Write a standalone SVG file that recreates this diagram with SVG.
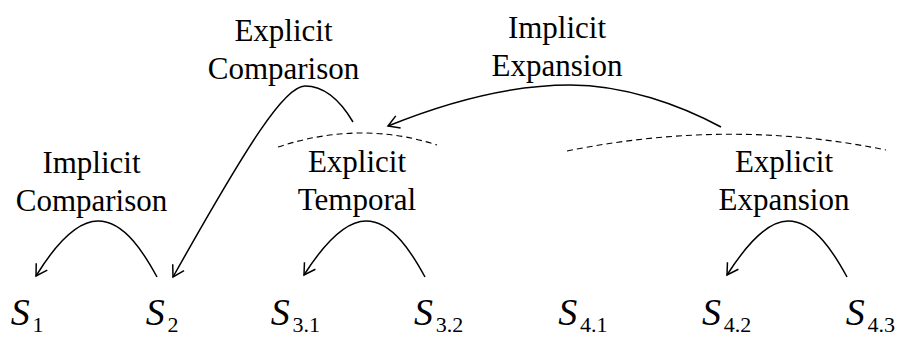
<svg xmlns="http://www.w3.org/2000/svg" width="898" height="338" viewBox="0 0 898 338">
<style>
.lbl{font-family:"Liberation Serif","Times New Roman",serif;font-size:31px;fill:#000;text-anchor:middle}
.s{font-family:"Liberation Serif","Times New Roman",serif;font-size:38px;font-style:italic;fill:#000}
.sub{font-family:"Liberation Serif","Times New Roman",serif;font-size:22px;font-style:normal;fill:#000}
.arc{fill:none;stroke:#000;stroke-width:1.5}
.span{fill:none;stroke:#000;stroke-width:1.1;stroke-dasharray:6 4}
</style>
<defs>
<marker id="arr" markerUnits="userSpaceOnUse" markerWidth="30" markerHeight="30" viewBox="-15 -15 30 30" refX="0" refY="0" orient="auto">
<path d="M-11,-6.5 L0,0 L-11,6.5" fill="none" stroke="#000" stroke-width="1.5"/>
</marker>
</defs>
<rect width="898" height="338" fill="#fff"/>
<g id="spans">
<path class="span" d="M278,147 Q360,120 437,145"/>
<path class="span" d="M567,151 Q730,118 886,150"/>
</g>
<g id="connectors">
<path class="arc" marker-end="url(#arr)" d="M157,277 C145,255 125,221 98,221 C75,221 52,250 36,276"/>
<path class="arc" marker-end="url(#arr)" d="M425,277 C413,255 393,221 366,221 C343,221 320,250 304,275"/>
<path class="arc" marker-end="url(#arr)" d="M847,277 C835,255 815,221 788,221 C765,221 743,250 727,275"/>
<path class="arc" marker-end="url(#arr)" d="M353,122 C340,100 325,86 305,86 C285,86 250,140 173,277"/>
<path class="arc" marker-end="url(#arr)" d="M721,127 C680,105 625,85 570,85 C510,85 445,103 388,126"/>
</g>
<g id="labels">
<text class="lbl" x="91.5" y="173">Implicit</text>
<text class="lbl" x="91.5" y="211">Comparison</text>
<text class="lbl" x="283.5" y="41">Explicit</text>
<text class="lbl" x="283.5" y="79">Comparison</text>
<text class="lbl" x="557" y="38">Implicit</text>
<text class="lbl" x="557" y="76">Expansion</text>
<text class="lbl" x="357" y="172">Explicit</text>
<text class="lbl" x="357" y="210">Temporal</text>
<text class="lbl" x="784" y="172">Explicit</text>
<text class="lbl" x="784" y="210">Expansion</text>
</g>
<g id="S1"><text class="s" x="10.7" y="325">S<tspan class="sub" x="32.5" y="332">1</tspan></text></g>
<g id="S2"><text class="s" x="145.7" y="325">S<tspan class="sub" x="167.5" y="332">2</tspan></text></g>
<g id="S3_1"><text class="s" x="270.7" y="325">S<tspan class="sub" x="292.5" y="332">3.1</tspan></text></g>
<g id="S3_2"><text class="s" x="414" y="325">S<tspan class="sub" x="435.8" y="332">3.2</tspan></text></g>
<g id="S4_1"><text class="s" x="558.3" y="325">S<tspan class="sub" x="580.1" y="332">4.1</tspan></text></g>
<g id="S4_2"><text class="s" x="702" y="325">S<tspan class="sub" x="723.8" y="332">4.2</tspan></text></g>
<g id="S4_3"><text class="s" x="845.7" y="325">S<tspan class="sub" x="867.5" y="332">4.3</tspan></text></g>
</svg>
